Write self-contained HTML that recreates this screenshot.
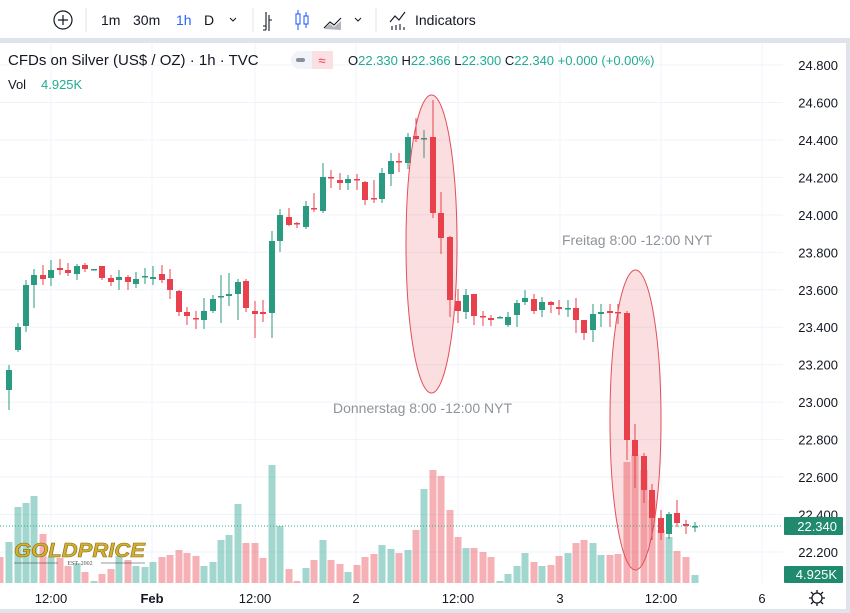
<!DOCTYPE html>
<html><head><meta charset="utf-8"><style>
body{margin:0;width:850px;height:613px;overflow:hidden;background:#fff;font-family:"Liberation Sans",sans-serif;}
</style></head><body>
<svg id="s" width="850" height="613" xmlns="http://www.w3.org/2000/svg" style="position:absolute;left:0;top:0">
<rect x="0" y="0" width="850" height="613" fill="#fff"/>
<rect x="0" y="38" width="850" height="5" fill="#e0e3eb"/>
<rect x="0" y="609" width="850" height="4" fill="#e0e3eb"/>
<rect x="846" y="38" width="4" height="575" fill="#e0e3eb"/>
<g id="grid" stroke="#f0f3fa" stroke-width="1"></g>
<g id="vol"></g>
<g id="candles"></g>
<line x1="0" y1="526" x2="783" y2="526" stroke="#22ab94" stroke-dasharray="1,2"/>
<ellipse cx="431.5" cy="244" rx="25.5" ry="149" fill="rgba(232,70,80,0.18)" stroke="#e0505b" stroke-width="1"/>
<ellipse cx="635.5" cy="420" rx="25.5" ry="150" fill="rgba(232,70,80,0.18)" stroke="#e0505b" stroke-width="1"/>
<text x="333" y="413" font-size="14" fill="#8f939b">Donnerstag 8:00 -12:00 NYT</text>
<text x="562" y="245" font-size="14" fill="#8f939b">Freitag 8:00 -12:00 NYT</text>
<g id="ax" font-size="13" fill="#131722" text-anchor="end"></g>
<rect x="784" y="517" width="59" height="18" fill="#1f8a6e" rx="1"/>
<text x="837" y="531" font-size="13" fill="#fff" text-anchor="end">22.340</text>
<rect x="784" y="566" width="59" height="17" fill="#1f8a6e" rx="1"/>
<text x="837" y="579" font-size="13" fill="#fff" text-anchor="end">4.925K</text>
<g font-size="13" fill="#131722" text-anchor="middle">
<text x="51" y="603">12:00</text><text x="152" y="603" font-weight="bold">Feb</text><text x="255" y="603">12:00</text><text x="356" y="603">2</text><text x="458" y="603">12:00</text><text x="560" y="603">3</text><text x="661" y="603">12:00</text><text x="762" y="603">6</text>
</g>
<g stroke="#131722" stroke-width="1.3" fill="none"><circle cx="817" cy="598" r="5"/><path d="M817 590v3M817 603v3M809 598h3M822 598h3M811 592l2 2M821 602l2 2M823 592l-2 2M811 604l2-2"/></g>
<!-- logo -->
<text x="14" y="557" font-size="20" font-weight="bold" font-style="italic" fill="#d4b030" stroke="#8a6d10" stroke-width="0.6" textLength="131" lengthAdjust="spacingAndGlyphs">GOLDPRICE</text>
<text x="80" y="565" font-size="6" fill="#555" text-anchor="middle" font-family="Liberation Serif,serif">EST. 2002</text>
<line x1="14" y1="563" x2="58" y2="563" stroke="#333" stroke-width="0.6"/><line x1="101" y1="563" x2="145" y2="563" stroke="#333" stroke-width="0.6"/>
<!-- header -->
<text x="8" y="65" font-size="15" fill="#131722">CFDs on Silver (US$ / OZ) · 1h · TVC</text>
<rect x="291" y="51" width="42" height="18" rx="9" fill="#f0f3fa"/><rect x="312" y="51" width="21" height="18" rx="0" fill="#fbe0e3"/>
<rect x="296" y="58" width="9" height="4" rx="2" fill="#8a8e98"/>
<text x="322" y="65" font-size="13" fill="#f23645" text-anchor="middle">≈</text>
<text x="348" y="65" font-size="13" fill="#131722">O<tspan fill="#22ab94">22.330</tspan> H<tspan fill="#22ab94">22.366</tspan> L<tspan fill="#22ab94">22.300</tspan> C<tspan fill="#22ab94">22.340</tspan> <tspan fill="#22ab94">+0.000 (+0.00%)</tspan></text>
<text x="8" y="89" font-size="13" fill="#131722">Vol</text>
<text x="41" y="89" font-size="13" fill="#22ab94">4.925K</text>
<!-- toolbar -->
<circle cx="63" cy="20" r="9" fill="none" stroke="#131722" stroke-width="1.2"/><path d="M63 15v10M58 20h10" stroke="#131722" stroke-width="1.2"/>
<line x1="86" y1="8" x2="86" y2="32" stroke="#e0e3eb"/>
<g font-size="14" fill="#131722"><text x="101" y="25">1m</text><text x="133" y="25">30m</text><text x="176" y="25" fill="#2962ff">1h</text><text x="204" y="25">D</text><text x="415" y="25">Indicators</text></g>
<path d="M230 18l3 3 3-3" stroke="#131722" fill="none"/><path d="M355 18l3 3 3-3" stroke="#131722" fill="none"/>
<line x1="253" y1="8" x2="253" y2="32" stroke="#e0e3eb"/><line x1="376" y1="8" x2="376" y2="32" stroke="#e0e3eb"/>
<g stroke="#131722" fill="none" stroke-width="1.1"><path d="M266 12v18M263 26h3M269 15v16M269 20h3M263 30h3"/><path d="M324 28l6-6 4 3 7-7"/><path d="M390 22l5-6 4 4 6-8M392 30v-4M396 30v-5M400 30v-6M404 30v-3"/></g>
<g stroke="#2962ff" fill="none" stroke-width="1.1"><rect x="296" y="14" width="4" height="10"/><path d="M298 10v4M298 24v6"/><rect x="304" y="16" width="4" height="8"/><path d="M306 12v4M306 24v4"/></g>
<path d="M324 29l6-5 4 3 7-6v9z" fill="#b2b5be"/>
</svg>
<script>
var NS="http://www.w3.org/2000/svg";
function el(p,t,a){var e=document.createElementNS(NS,t);for(var k in a)e.setAttribute(k,a[k]);document.getElementById(p).appendChild(e);return e;}
var ps=["24.800","24.600","24.400","24.200","24.000","23.800","23.600","23.400","23.200","23.000","22.800","22.600","22.400","22.200"];
ps.forEach(function(p){var y=65+(24.8-parseFloat(p))*187.3;el("grid","line",{x1:0,y1:y,x2:783,y2:y});var t=el("ax","text",{x:838,y:y+5});t.textContent=p;});
[51,152,255,356,458,560,661,762].forEach(function(x){el("grid","line",{x1:x,y1:43,x2:x,y2:583});});
var G="#2a9a80",R="#e8404c";
var C=[[9,370,390,365,410,1],[18,327,350,323,352,1],[26,285,326,280,332,1],[34,275,285,269,308,1],[43,275,279,265,285,0],[51,270,278,260,286,1],[60,268,270,259,275,0],[68,270,273,263,276,0],[77,266,274,264,280,1],[85,265,269,263,272,0],[94,269,269,269,269,1],[102,266,278,266,280,0],[111,278,282,275,286,0],[119,277,280,270,290,1],[128,277,282,275,290,0],[136,279,284,272,288,1],[145,276,277,268,284,1],[153,277,279,266,285,1],[162,274,280,265,283,0],[170,279,290,269,299,0],[179,291,312,290,316,0],[187,312,316,307,325,0],[196,318,319,311,329,0],[204,311,320,298,329,1],[213,299,311,295,313,1],[221,296,296,275,323,1],[229,294,296,273,306,1],[238,282,294,279,320,1],[246,281,308,279,312,0],[255,311,314,301,338,0],[263,312,314,300,322,0],[272,241,313,231,338,1],[280,215,241,209,252,1],[289,217,225,208,226,0],[297,223,224,222,228,0],[306,206,227,201,229,1],[314,208,209,193,212,0],[323,177,211,163,213,1],[331,177,178,170,188,0],[340,180,183,173,190,0],[348,179,183,175,190,1],[357,179,180,174,190,0],[365,182,200,181,205,0],[374,198,199,180,203,0],[382,173,199,168,203,1],[391,161,174,153,186,1],[399,161,162,153,172,0],[408,137,163,133,169,1],[416,136,139,118,142,0],[424,138,138,130,158,1],[433,137,213,100,218,0],[441,213,238,192,254,0],[450,237,300,236,317,0],[458,301,311,289,323,0],[466,295,312,289,319,1],[474,294,316,294,325,0],[483,316,317,311,326,0],[491,318,320,315,326,0],[500,317,317,316,318,1],[508,317,325,312,327,1],[517,303,315,300,327,1],[525,298,302,290,305,1],[534,299,311,294,314,0],[542,302,310,297,317,1],[551,302,305,301,313,0],[559,307,309,300,315,0],[568,308,308,300,317,1],[576,308,320,298,333,0],[584,320,333,320,340,0],[593,314,330,304,342,1],[601,312,314,304,327,1],[610,311,313,304,327,0],[618,312,313,304,324,0],[627,313,440,311,460,0],[635,440,456,424,488,0],[644,456,490,453,503,0],[652,490,518,484,540,0],[661,518,533,510,540,0],[669,514,534,512,539,1],[677,513,523,500,527,0],[686,524,526,520,534,0],[695,526,527,522,532,1]];
var V=[[0,557,0],[9,542,1],[18,507,1],[26,503,1],[34,496,1],[43,534,0],[51,557,1],[60,558,0],[68,566,0],[77,563,1],[85,572,0],[94,581,1],[102,574,0],[111,569,0],[119,556,1],[128,560,0],[136,566,1],[145,567,1],[153,562,1],[162,557,0],[170,555,0],[179,550,0],[187,553,0],[196,556,0],[204,566,1],[213,562,1],[221,540,1],[229,535,1],[238,504,1],[246,543,0],[255,543,0],[263,558,0],[272,465,1],[280,526,1],[289,569,0],[297,581,0],[306,568,1],[314,560,0],[323,540,1],[331,560,0],[340,564,0],[348,572,1],[357,565,0],[365,557,0],[374,554,0],[382,545,1],[391,549,1],[399,553,0],[408,550,1],[416,530,0],[424,489,1],[433,470,0],[441,476,0],[450,510,0],[458,537,0],[466,548,1],[474,548,0],[483,552,0],[491,557,0],[500,581,1],[508,574,1],[517,566,1],[525,553,1],[534,562,0],[542,566,1],[551,565,0],[559,556,0],[568,553,1],[576,543,0],[584,540,0],[593,543,1],[601,555,1],[610,555,0],[618,554,0],[627,462,0],[635,455,0],[644,470,0],[652,500,0],[661,530,0],[669,537,1],[677,551,0],[686,557,0],[695,575,1]];
V.forEach(function(v){el("vol","rect",{x:v[0]-3.5,y:v[1],width:7,height:583-v[1],fill:v[2]?"rgba(34,160,140,0.42)":"rgba(232,70,80,0.42)"});});
C.forEach(function(c){var col=c[5]?G:R;el("candles","line",{x1:c[0],y1:c[3],x2:c[0],y2:c[4],stroke:col,"stroke-width":1});var h=Math.max(c[2]-c[1],1.5);el("candles","rect",{x:c[0]-3,y:c[1],width:6,height:h,fill:col});});
</script>
</body></html>
